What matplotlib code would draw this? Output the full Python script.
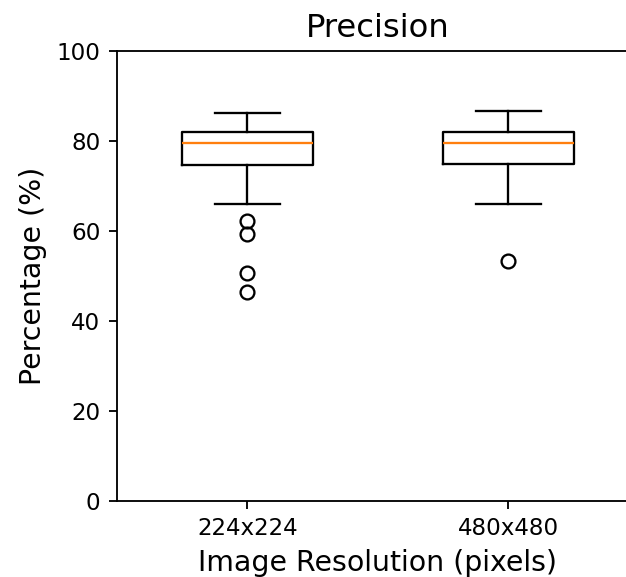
import matplotlib
matplotlib.use("Agg")
import matplotlib.pyplot as plt

# Summary statistics of precision (%) for each input resolution
resolutions = ["224x224", "480x480"]
q1 = [74.6, 74.9]
medians = [79.6, 79.6]
q3 = [82.0, 82.0]
whisker_low = [66.1, 66.1]
whisker_high = [86.3, 86.8]
outliers = [[62.3, 59.3, 50.6, 46.4], [53.4]]

stats = []
for name, lo, a, m, b, hi, fl in zip(resolutions, whisker_low, q1, medians,
                                     q3, whisker_high, outliers):
    stats.append(dict(label=name, whislo=lo, q1=a, med=m, q3=b,
                      whishi=hi, fliers=fl))

DPI = 166
fig = plt.figure(figsize=(626 / DPI, 577 / DPI), dpi=DPI)
ax = fig.add_axes([116.7 / 626, 76.3 / 577, (639 - 116.7) / 626, (500.7 - 51.3) / 577])

ax.bxp(stats, positions=[1, 2], widths=0.5, showfliers=True,
       medianprops=dict(color="#ff7f0e"),
       flierprops=dict(marker="o", markerfacecolor="none", markeredgecolor="black"))

ax.set_xlim(0.5, 2.5)
ax.set_ylim(0, 100)
ax.set_yticks([0, 20, 40, 60, 80, 100])
ax.tick_params(labelsize=10)
ax.set_title("Precision", fontsize=14)
ax.set_xlabel("Image Resolution (pixels)", fontsize=12.3)
ax.set_ylabel("Percentage (%)", fontsize=12.3)

fig.savefig("out.png", dpi=DPI)
